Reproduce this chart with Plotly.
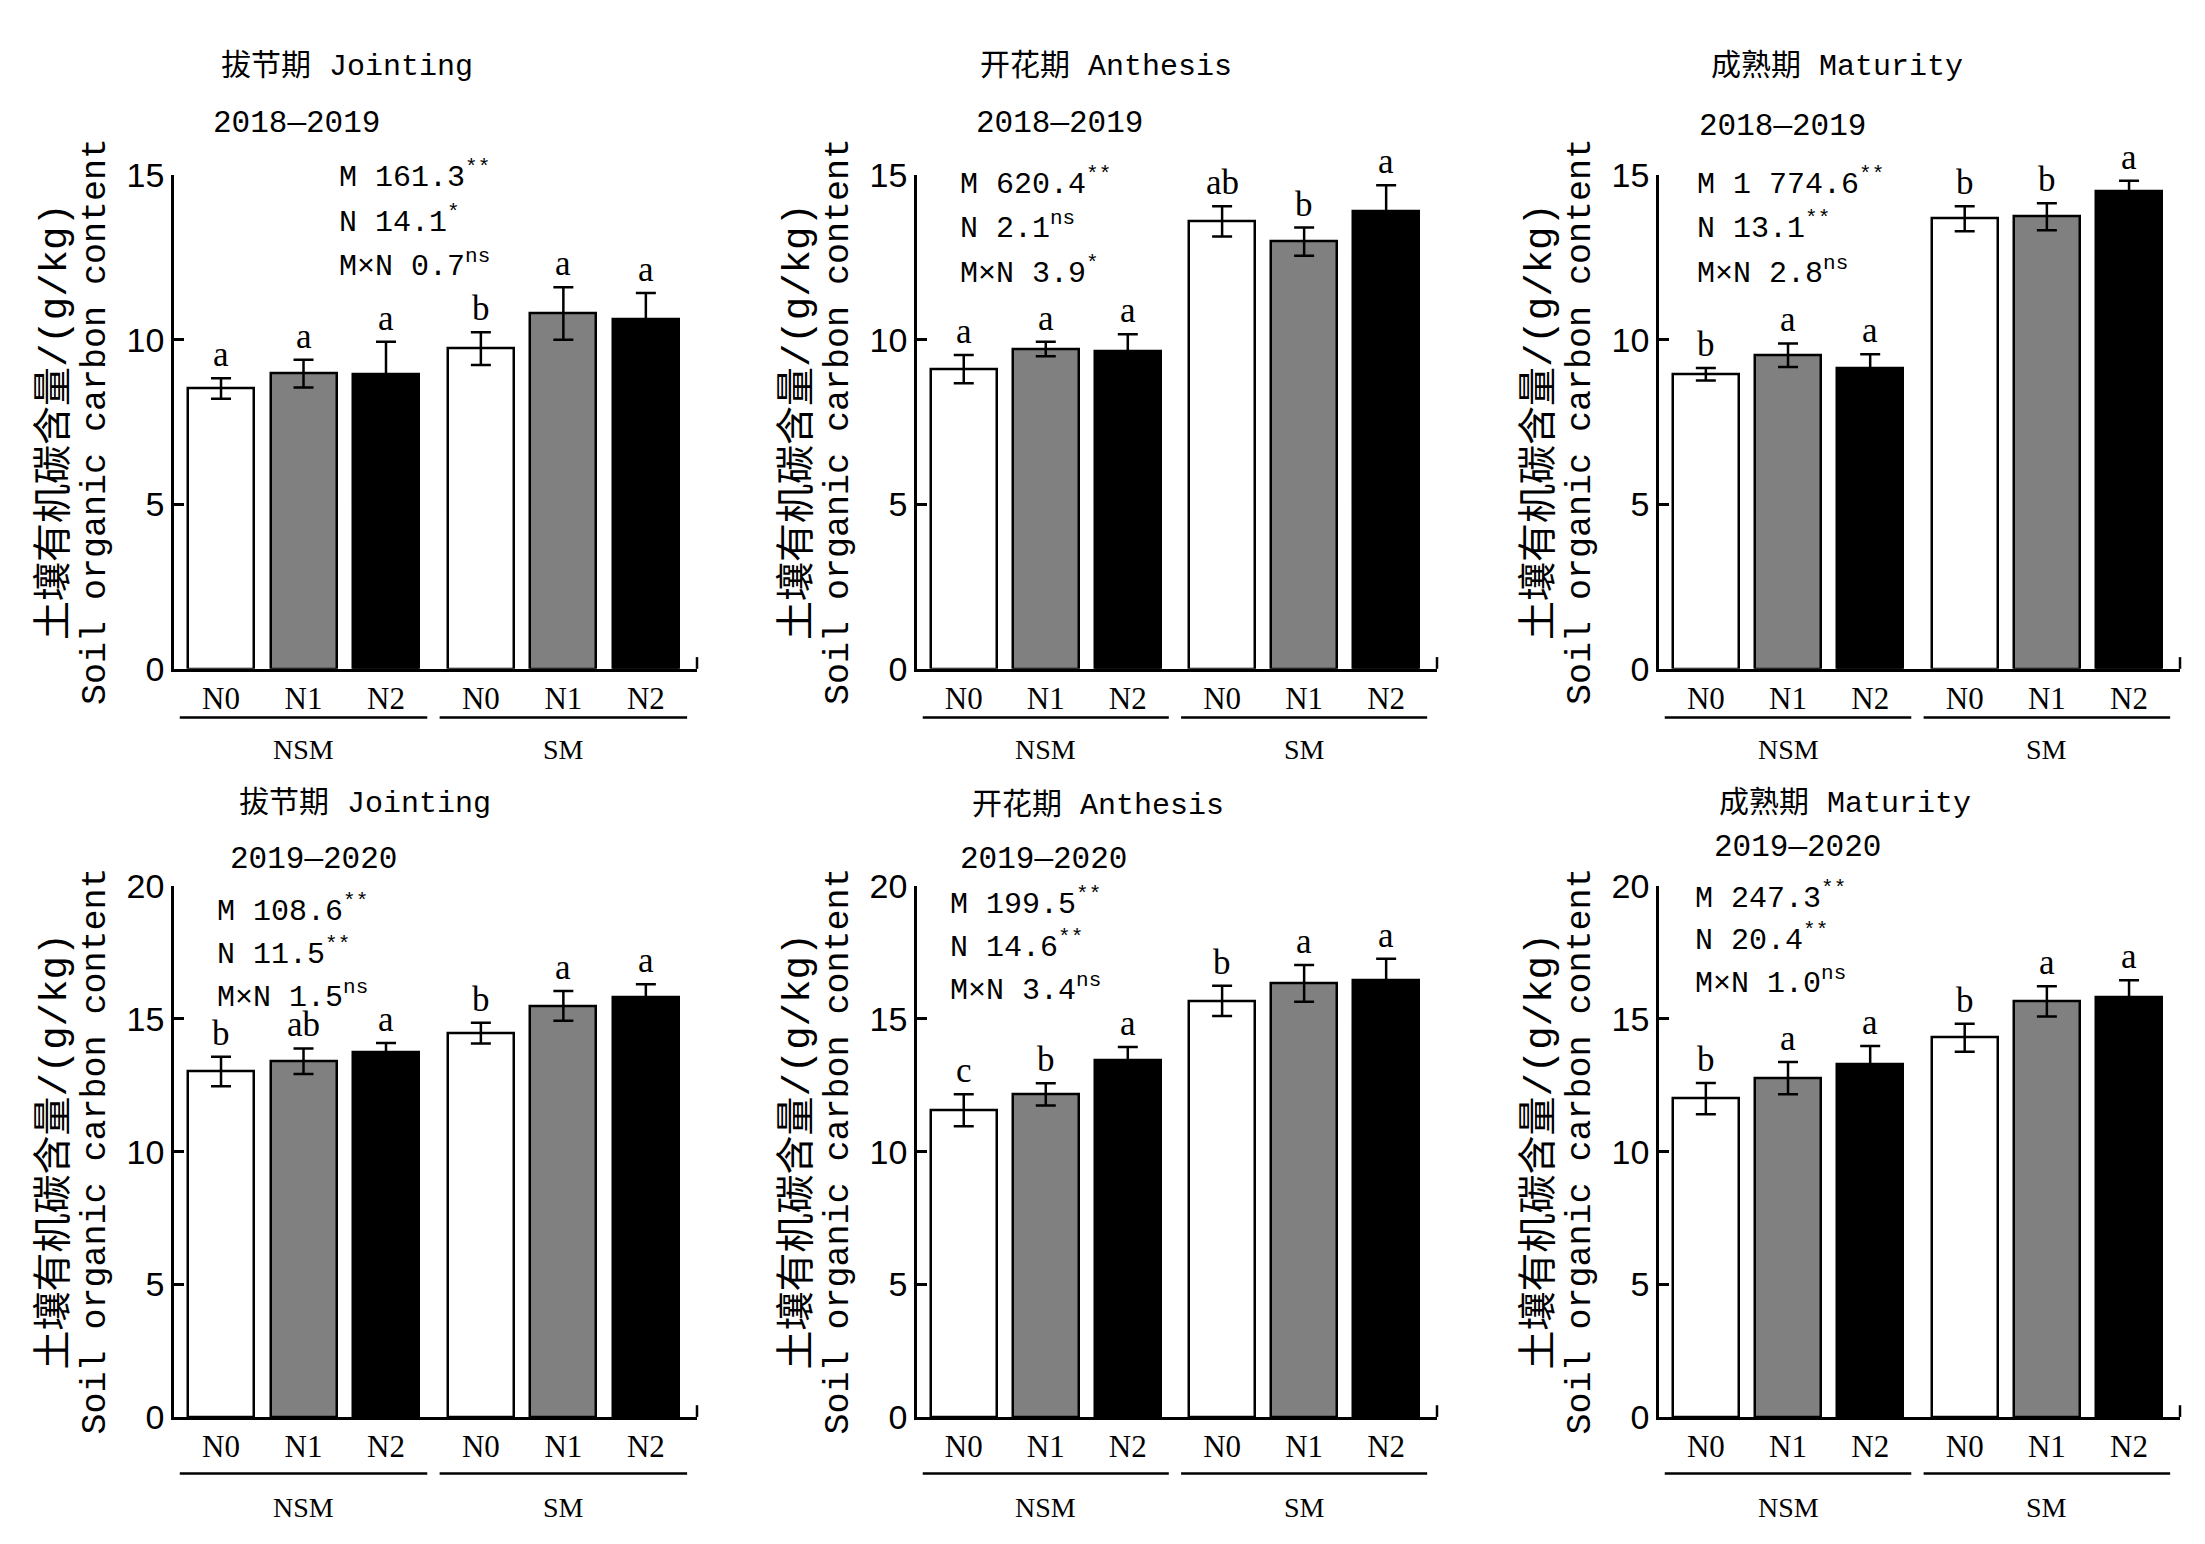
"""
Soil organic carbon content under straw mulching (NSM/SM) and N rates,
two seasons x three growth stages, grouped bar charts with error bars.
"""

import plotly.graph_objects as go
from plotly.subplots import make_subplots

stages = ["拔节期 Jointing", "开花期 Anthesis", "成熟期 Maturity"]
seasons = ["2018—2019", "2019—2020"]
n_levels = ["N0", "N1", "N2"]
groups = ["NSM", "SM"]

# order: NSM N0 N1 N2, SM N0 N1 N2  (g/kg)
soc_1819_jointing = [8.52, 8.97, 8.94, 9.73, 10.80, 10.62]
soc_1819_anthesis = [9.11, 9.72, 9.65, 13.60, 12.98, 13.90]
soc_1819_maturity = [8.95, 9.53, 9.13, 13.68, 13.74, 14.52]
soc_1920_jointing = [13.02, 13.41, 13.74, 14.47, 15.49, 15.82]
soc_1920_anthesis = [11.56, 12.16, 13.46, 15.68, 16.34, 16.45]
soc_1920_maturity = [12.00, 12.77, 13.28, 14.29, 15.66, 15.82]

err_1819_jointing = [0.31, 0.42, 1.00, 0.50, 0.80, 0.80]
err_1819_anthesis = [0.43, 0.22, 0.52, 0.46, 0.43, 0.80]
err_1819_maturity = [0.19, 0.36, 0.43, 0.38, 0.41, 0.31]
err_1920_jointing = [0.56, 0.48, 0.35, 0.39, 0.56, 0.49]
err_1920_anthesis = [0.60, 0.42, 0.48, 0.57, 0.69, 0.82]
err_1920_maturity = [0.59, 0.61, 0.70, 0.53, 0.57, 0.64]

letters_1819_jointing = ["a", "a", "a", "b", "a", "a"]
letters_1819_anthesis = ["a", "a", "a", "ab", "b", "a"]
letters_1819_maturity = ["b", "a", "a", "b", "b", "a"]
letters_1920_jointing = ["b", "ab", "a", "b", "a", "a"]
letters_1920_anthesis = ["c", "b", "a", "b", "a", "a"]
letters_1920_maturity = ["b", "a", "a", "b", "a", "a"]

stats_1819_jointing = ["M 161.3<sup>**</sup>", "N 14.1<sup>*</sup>", "M×N 0.7<sup>ns</sup>"]
stats_1819_anthesis = ["M 620.4<sup>**</sup>", "N 2.1<sup>ns</sup>", "M×N 3.9<sup>*</sup>"]
stats_1819_maturity = ["M 1 774.6<sup>**</sup>", "N 13.1<sup>**</sup>", "M×N 2.8<sup>ns</sup>"]
stats_1920_jointing = ["M 108.6<sup>**</sup>", "N 11.5<sup>**</sup>", "M×N 1.5<sup>ns</sup>"]
stats_1920_anthesis = ["M 199.5<sup>**</sup>", "N 14.6<sup>**</sup>", "M×N 3.4<sup>ns</sup>"]
stats_1920_maturity = ["M 247.3<sup>**</sup>", "N 20.4<sup>**</sup>", "M×N 1.0<sup>ns</sup>"]

y_ticks_1819 = [0, 5, 10, 15]
y_ticks_1920 = [0, 5, 10, 15, 20]

panels = [
    (soc_1819_jointing, err_1819_jointing, letters_1819_jointing, stats_1819_jointing),
    (soc_1819_anthesis, err_1819_anthesis, letters_1819_anthesis, stats_1819_anthesis),
    (soc_1819_maturity, err_1819_maturity, letters_1819_maturity, stats_1819_maturity),
    (soc_1920_jointing, err_1920_jointing, letters_1920_jointing, stats_1920_jointing),
    (soc_1920_anthesis, err_1920_anthesis, letters_1920_anthesis, stats_1920_anthesis),
    (soc_1920_maturity, err_1920_maturity, letters_1920_maturity, stats_1920_maturity),
]

# --- layout (pixels in a 2205 x 1544 canvas) ---
W, H = 2205, 1544
bar_x = [0, 1, 2, 3.15, 4.15, 5.15]
x_range = [-0.57, 5.77]
fills = ["white", "#808080", "black"] * 2
col_px = [(166, 689), (909, 1429), (1651, 2172)]
row_px = [(152, 658), (881, 1425)]
title_px = [(339, 40), (1098, 40), (1829, 40), (357, 796), (1090, 798), (1837, 796)]
season_px = [(289, 99), (1051, 99), (1774, 102), (305, 853), (1035, 853), (1789, 841)]
stats_px = [(329, 152), (950, 159), (1687, 159), (207, 905), (940, 898), (1685, 891)]
stats_step = [46, 44]
group_line_off = [50, 58]
group_label_off = [83, 93]

MONO = "Liberation Mono, Noto Sans CJK SC, monospace"
SERIF = "Liberation Serif, Times New Roman, serif"
NARROW = "Liberation Sans Narrow, Arial Narrow, Liberation Sans, sans-serif"

fig = make_subplots(rows=2, cols=3)

annotations = []
shapes = []

for i, (vals, errs, letters, stats) in enumerate(panels):
    r, c = i // 3 + 1, i % 3 + 1
    xn = "x" if i == 0 else f"x{i + 1}"
    yn = "y" if i == 0 else f"y{i + 1}"
    ticks_y = y_ticks_1819 if r == 1 else y_ticks_1920

    fig.add_trace(go.Bar(
        x=bar_x, y=vals, width=0.8,
        marker=dict(color=fills, line=dict(color="black", width=2.5)),
        error_y=dict(type="data", array=errs, color="black", thickness=2.5, width=10),
        showlegend=False,
    ), row=r, col=c)

    x0, x1 = col_px[c - 1]
    y0, y1 = row_px[r - 1]
    fig.update_xaxes(
        domain=[x0 / W, x1 / W], range=x_range,
        tickvals=bar_x, ticktext=n_levels * 2, ticks="",
        showline=True, linecolor="black", linewidth=2.5,
        showgrid=False, zeroline=False,
        tickfont=dict(family=SERIF, size=31, color="black"),
        row=r, col=c,
    )
    fig.update_yaxes(
        domain=[1 - y1 / H, 1 - y0 / H], range=[0, ticks_y[-1]],
        tickvals=ticks_y, ticks="inside", ticklen=10, tickwidth=2.5, tickcolor="black",
        showline=True, linecolor="black", linewidth=2.5,
        showgrid=False, zeroline=False,
        tickfont=dict(family=NARROW, size=34, color="black"),
        row=r, col=c,
    )

    # significance letters above error bars
    for xv, v, e, lt in zip(bar_x, vals, errs, letters):
        annotations.append(dict(
            x=xv, y=v + e, xref=xn, yref=yn, text=lt, showarrow=False,
            yanchor="bottom", yshift=2,
            font=dict(family=SERIF, size=35, color="black"),
        ))

    # stage title and season
    tx, ty = title_px[i]
    annotations.append(dict(
        x=tx / W, y=1 - ty / H, xref="paper", yref="paper", text=stages[c - 1],
        showarrow=False, xanchor="center", yanchor="middle",
        font=dict(family=MONO, size=30, color="black"),
    ))
    sx, sy = season_px[i]
    annotations.append(dict(
        x=sx / W, y=1 - sy / H, xref="paper", yref="paper", text=seasons[r - 1],
        showarrow=False, xanchor="center", yanchor="middle",
        font=dict(family=MONO, size=31, color="black"),
    ))

    # ANOVA F values
    ax, ay = stats_px[i]
    for k, line in enumerate(stats):
        annotations.append(dict(
            x=ax / W, y=1 - (ay + stats_step[r - 1] * k) / H, xref="paper", yref="paper",
            text=line, showarrow=False, xanchor="left", yanchor="middle",
            font=dict(family=MONO, size=30, color="black"),
        ))

    # y-axis title (two lines)
    annotations.append(dict(
        x=0, y=0.5, xref=f"{xn} domain", yref=f"{yn} domain", xshift=-119,
        text="土壤有机碳含量/(g/kg)", textangle=-90, showarrow=False,
        xanchor="center", yanchor="middle",
        font=dict(family=MONO, size=39, color="black"),
    ))
    annotations.append(dict(
        x=0, y=0.5, xref=f"{xn} domain", yref=f"{yn} domain", xshift=-78,
        text="Soil organic carbon content", textangle=-90, showarrow=False,
        xanchor="center", yanchor="middle",
        font=dict(family=MONO, size=35, color="black"),
    ))

    # group brackets and labels below the N labels
    gy = 1 - (y1 + group_line_off[r - 1]) / H
    for gi, g in enumerate(groups):
        gx = bar_x[gi * 3: gi * 3 + 3]
        shapes.append(dict(
            type="line", xref=xn, yref="paper",
            x0=gx[0] - 0.5, x1=gx[-1] + 0.5, y0=gy, y1=gy,
            line=dict(color="black", width=2.5),
        ))
        annotations.append(dict(
            x=sum(gx) / 3, y=1 - (y1 + group_label_off[r - 1]) / H,
            xref=xn, yref="paper",
            text=g, showarrow=False, xanchor="center", yanchor="middle",
            font=dict(family=SERIF, size=28, color="black"),
        ))

    # small upward tick at the right end of the x axis
    shapes.append(dict(
        type="line", xref=f"{xn} domain", yref="paper",
        x0=1, x1=1, y0=1 - y1 / H, y1=1 - (y1 - 12) / H,
        line=dict(color="black", width=2.5),
    ))

fig.update_layout(
    width=W, height=H,
    margin=dict(l=0, r=0, t=0, b=0),
    paper_bgcolor="white", plot_bgcolor="white",
    bargap=0, annotations=annotations, shapes=shapes,
)

fig.write_html("out.html")
